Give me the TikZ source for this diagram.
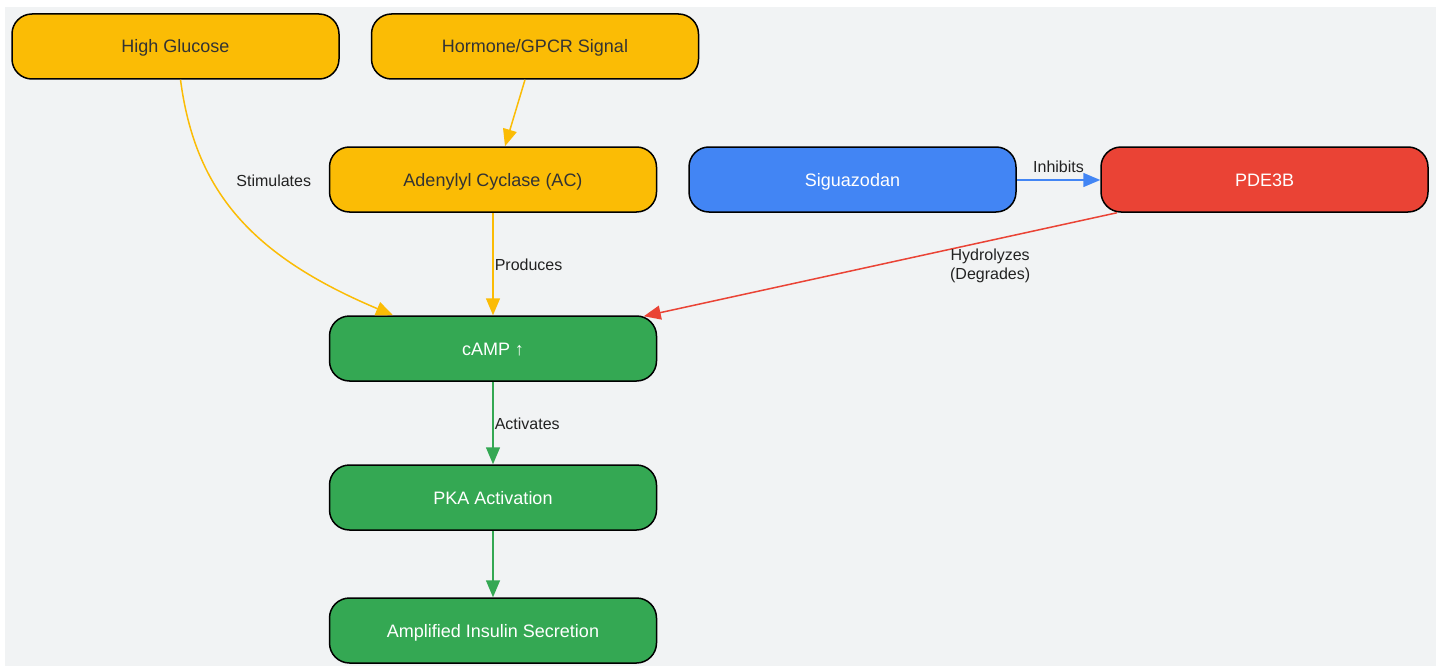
\documentclass[tikz,border=0pt]{standalone}
\usepackage{fontspec}
\setmainfont{Liberation Sans}
\usetikzlibrary{arrows.meta}
\definecolor{bgc}{HTML}{F1F3F4}
\definecolor{ylw}{HTML}{FBBC05}
\definecolor{blu}{HTML}{4285F4}
\definecolor{rd}{HTML}{EA4335}
\definecolor{grn}{HTML}{34A853}
\definecolor{dtxt}{HTML}{333333}
\definecolor{ltxt}{HTML}{222222}
\tikzset{
  box/.style={draw=black, line width=1.5pt, rounded corners=20pt, minimum width=327pt, minimum height=65pt, font=\fontsize{18}{21}\selectfont, inner sep=0pt, text height=13pt, text depth=0pt},
  ybox/.style={box, fill=ylw, text=dtxt},
  bbox/.style={box, fill=blu, text=white},
  rbox/.style={box, fill=rd, text=white},
  gbox/.style={box, fill=grn, text=white},
  conn/.style={line width=1.5pt, -{Triangle[length=17pt,width=14pt]}},
  lbl/.style={font=\fontsize{16}{19}\selectfont, text=ltxt, inner sep=1pt}
}
\begin{document}
\begin{tikzpicture}[x=1pt,y=-1pt]
\useasboundingbox (0,0) rectangle (1442,666);
\fill[bgc] (5,7) rectangle (1436,666);
\node[ybox] (hg) at (175.5,46.5) {High Glucose};
\node[ybox] (hor) at (535,46.5) {Hormone/GPCR Signal};
\node[ybox] (ac) at (493,179.5) {Adenylyl Cyclase (AC)};
\node[bbox] (sig) at (852.5,179.5) {Siguazodan};
\node[rbox] (pde) at (1264.5,179.5) {PDE3B};
\node[gbox] (camp) at (493,348.5) {cAMP ↑};
\node[gbox] (pka) at (493,497.5) {PKA Activation};
\node[gbox] (ins) at (493,630.5) {Amplified Insulin Secretion};

\draw[conn, ylw] ([xshift=5pt]hg.south) .. controls (195,190) and (250,255) .. ([xshift=-100pt]camp.north)
  node[lbl, pos=0.35, right, xshift=22pt] {Stimulates};
\draw[conn, ylw] ([xshift=-10pt]hor.south) -- ([xshift=12pt]ac.north);
\draw[conn, ylw] (ac.south) -- (camp.north) node[lbl, midway, right, yshift=-1pt] {Produces};
\draw[conn, blu] ([yshift=-0.5pt]sig.east) -- ([yshift=-0.5pt]pde.west) node[lbl, midway, above, yshift=6pt] {Inhibits};
\draw[conn, rd] ([xshift=-147.5pt]pde.south) -- ([xshift=-13.5pt,yshift=-1pt]camp.north east)
  node[lbl, pos=0.268, anchor=north, yshift=-7pt, align=center] {Hydrolyzes\\(Degrades)};
\draw[conn, grn] (camp.south) -- (pka.north) node[lbl, midway, right, yshift=-1pt] {Activates};
\draw[conn, grn] (pka.south) -- (ins.north);
\end{tikzpicture}
\end{document}
